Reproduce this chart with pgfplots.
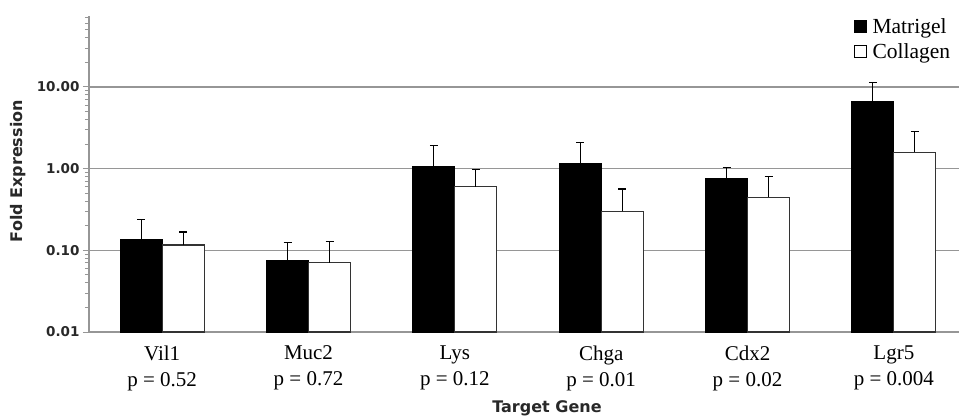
\documentclass[border=0pt]{standalone}
\usepackage{pgfplots}
\pgfplotsset{compat=1.18}
\usepackage{fontspec}
\setmainfont{Liberation Serif}
\newfontfamily\dejavu{DejaVu Sans}
\definecolor{gridgray}{RGB}{150,150,150}
\definecolor{labgray}{RGB}{40,40,40}
\begin{document}
\begin{tikzpicture}
\useasboundingbox (0,0) rectangle (959pt,420pt);
\clip (0,0) rectangle (959pt,420pt);
\begin{axis}[
  at={(89pt,88pt)}, anchor=south west,
  scale only axis, width=878pt, height=316pt,
  ybar=0pt, bar width=42pt,
  ymode=log, log origin y=infty,
  xmin=-0.5, xmax=5.5, ymin=0.01, ymax=74,
  axis x line*=bottom, axis y line*=left,
  axis line style={gridgray, line width=1.3pt},
  xtick={0,1,2,3,4,5},
  xticklabels={{Vil1\\p = 0.52},{Muc2\\p = 0.72},{Lys\\p = 0.12},{Chga\\p = 0.01},{Cdx2\\p = 0.02},{Lgr5\\p = 0.004}},
  xticklabel style={align=center, font=\fontsize{21}{26}\selectfont, yshift=-4pt},
  x tick style={draw=none},
  ytick={0.01,0.1,1,10},
  yticklabels={0.01,0.10,1.00,10.00},
  minor ytick={0.02,0.03,0.04,0.05,0.06,0.07,0.08,0.09,0.2,0.3,0.4,0.5,0.6,0.7,0.8,0.9,2,3,4,5,6,7,8,9,20,30,40,50,60,70},
  yticklabel style={font=\dejavu\bfseries\fontsize{13.5}{14}\selectfont, text=labgray},
  tick align=outside,
  major tick length=6pt, minor tick length=4pt,
  y tick style={gridgray, line width=1pt},
  ymajorgrids, major grid style={gridgray, line width=1.3pt},
  xlabel={Target Gene},
  xlabel style={at={(axis description cs:0.5216,-0.2405)}, anchor=center, font=\dejavu\bfseries\fontsize{16}{16}\selectfont, text=labgray},
  ylabel={Fold Expression},
  ylabel style={at={(axis description cs:-0.0809,0.509)}, anchor=center, font=\dejavu\bfseries\fontsize{16}{16}\selectfont, text=labgray},
  legend style={at={(axis description cs:0.871,1.0)}, anchor=north west, draw=none, fill=none,
    font=\fontsize{21.5}{24}\selectfont, row sep=5pt, inner sep=0pt, cells={anchor=west}},
  legend image code/.code={\draw[#1, draw=black, line width=1pt] (0pt,-6pt) rectangle (12pt,6pt);},
  error bars/y dir=plus, error bars/y explicit,
  error bars/error mark options={rotate=90, mark size=4pt, line width=1.3pt, black},
  error bars/error bar style={line width=1.3pt, black},
]
\addplot[fill=black, draw=black, line width=1.2pt] coordinates {
 (0,0.135) +- (0,0.104)
 (1,0.0755) +- (0,0.0485)
 (2,1.07) +- (0,0.84)
 (3,1.16) +- (0,0.95)
 (4,0.762) +- (0,0.278)
 (5,6.62) +- (0,4.68)
};
\addplot[fill=white, draw=black!80, line width=1.2pt] coordinates {
 (0,0.116) +- (0,0.051)
 (1,0.0706) +- (0,0.058)
 (2,0.603) +- (0,0.377)
 (3,0.299) +- (0,0.265)
 (4,0.447) +- (0,0.351)
 (5,1.59) +- (0,1.26)
};
\legend{\,Matrigel, \,Collagen}
\end{axis}
\end{tikzpicture}
\end{document}
